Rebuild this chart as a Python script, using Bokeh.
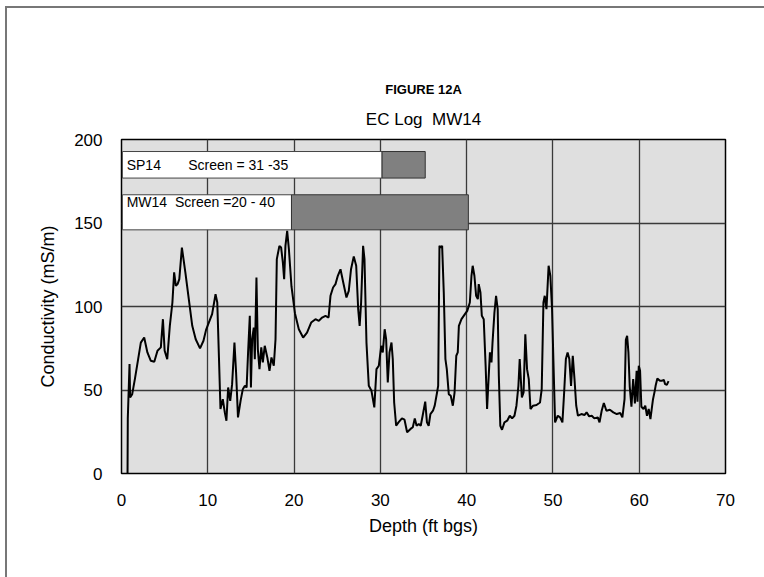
from bokeh.plotting import figure
from bokeh.models import Label, FixedTicker, Grid, Title
from bokeh.embed import file_html
from bokeh.resources import INLINE

# ---- data ----
depth = [0.7, 0.73, 0.93, 1.0, 1.24, 1.55, 1.93, 2.24, 2.63, 3.0, 3.4, 3.8, 4.17, 4.56, 4.8, 5.0,
         5.3, 5.6, 5.9, 6.1, 6.3, 6.5, 6.7, 7.0, 7.4, 7.8, 8.2, 8.6, 9.1, 9.5, 9.8, 10.12, 10.5,
         10.9, 11.1, 11.3, 11.47, 11.74, 11.97, 12.16, 12.36, 12.6, 12.82, 13.09, 13.28, 13.5,
         13.8, 14.06, 14.3, 14.5, 14.67, 14.87, 15.0, 15.14, 15.33, 15.45, 15.64, 15.8, 15.99,
         16.2, 16.38, 16.6, 16.9, 17.15, 17.38, 17.65, 17.85, 18.0, 18.3, 18.5, 18.7, 18.85,
         19.0, 19.2, 19.4, 19.7, 20.1, 20.55, 21.05, 21.5, 21.98, 22.48, 22.87, 23.25, 23.64,
         24.0, 24.22, 24.52, 24.8, 25.07, 25.38, 25.7, 26.07, 26.34, 26.6, 26.92, 27.2, 27.43,
         27.6, 27.77, 28.0, 28.16, 28.39, 28.66, 28.97, 29.3, 29.55, 29.82, 30.1, 30.28, 30.5,
         30.67, 30.86, 31.06, 31.29, 31.44, 31.6, 31.83, 32.1, 32.5, 32.8, 33.1, 33.5, 33.76,
         33.99, 34.2, 34.45, 34.68, 34.9, 35.2, 35.4, 35.6, 35.8, 36.1, 36.3, 36.57, 36.7,
         36.85, 37.04, 37.16, 37.35, 37.54, 37.7, 37.93, 38.16, 38.4, 38.6, 38.8, 38.97, 39.1,
         39.4, 39.8, 40.07, 40.37, 40.56, 40.7, 40.9, 41.1, 41.3, 41.4, 41.6, 41.76, 41.98,
         42.2, 42.37, 42.5, 42.7, 42.88, 43.0, 43.22, 43.41, 43.6, 43.73, 43.9, 44.1, 44.38,
         44.7, 45.0, 45.27, 45.54, 45.77, 46.0, 46.15, 46.3, 46.4, 46.6, 46.8, 47.0, 47.2,
         47.4, 47.7, 48.1, 48.5, 48.7, 48.9, 49.05, 49.25, 49.5, 49.7, 49.9, 50.05, 50.25,
         50.56, 50.83, 51.1, 51.3, 51.5, 51.7, 51.9, 52.1, 52.3, 52.5, 52.7, 52.9, 53.3, 53.65,
         53.9, 54.2, 54.5, 54.8, 55.2, 55.4, 55.65, 55.9, 56.2, 56.6, 57.0, 57.4, 57.8, 58.05,
         58.3, 58.45, 58.6, 58.75, 58.9, 59.1, 59.3, 59.5, 59.7, 59.8, 59.95, 60.1, 60.25,
         60.5, 60.7, 60.9, 61.1, 61.3, 61.5, 61.6, 61.8, 61.9, 62.1, 62.4, 62.6, 62.85, 63.0,
         63.2, 63.4]
conductivity = [0, 33, 65.5, 45.5, 47.5, 56.5, 68.5, 78.4, 81.4, 72.5, 67.5, 66.9, 73.5, 75.5, 92.4,
                73.5, 68.5, 88.4, 102.4, 120.4, 112.4, 113.4, 116.4, 135.3, 120.4, 104.4, 88.4,
                80.4, 74.9, 79.5, 86, 90.4, 95.4, 107.4, 102.4, 68.5, 38.6, 44.5, 36.6, 31.6,
                51.5, 43.5, 53.5, 78.4, 60.5, 33.6, 43.5, 50.5, 52.5, 51.5, 72.5, 94.4, 51.5,
                80.4, 87.4, 68.5, 117.4, 74.5, 62.5, 75.5, 66.5, 76.5, 69.5, 61.5, 69.5, 64.5,
                80.4, 128.4, 136.3, 135.3, 126.4, 116.4, 136.3, 145.3, 134.3, 112, 96, 86.4,
                81.4, 84.4, 90.4, 92.4, 91.4, 93.4, 94.4, 93.4, 106.4, 111.4, 113.4, 118.4,
                122.3, 114.4, 105.4, 109.4, 122.3, 130, 124.4, 98.4, 88.4, 102.4, 136.3, 128.4,
                78.4, 52.5, 49.5, 39.6, 62.5, 64.5, 76.5, 72.5, 86.4, 80.4, 54.5, 72.5, 78.4,
                68.5, 42.5, 28.6, 30.6, 33, 32.2, 24.7, 26.7, 27.7, 33, 28.6, 29.6, 28.6, 34.6,
                43, 30.6, 28.6, 35.6, 37.6, 40.6, 48.5, 52.5, 136.3, 135.3, 136.3, 108.4, 68.5,
                62.5, 47.5, 46.5, 40.6, 48.5, 70.5, 72.5, 88.4, 92.4, 95.4, 97.4, 102.4, 118.4,
                124.4, 118.4, 106.4, 104.4, 113.4, 108.4, 94.4, 92.4, 64.5, 38.6, 52.5, 72.5,
                66.5, 78.4, 96.4, 106.4, 98.4, 58.5, 28.6, 26.2, 30.6, 31.6, 34.6, 33, 34.6,
                40.6, 52.5, 68.5, 54.5, 45.5, 48.5, 83.4, 62.5, 56.5, 38.6, 40.6, 41, 42.5, 50.5,
                102.4, 106.4, 98.4, 124.4, 118.4, 98.4, 68.5, 30.6, 34.6, 33.6, 30.6, 48.5, 68.5,
                72.5, 68.5, 52.5, 70.5, 56.5, 40.6, 34.6, 35.6, 35, 36.6, 34.2, 34.6, 33, 33.6,
                30.6, 37.6, 42.2, 37.6, 38.2, 36.6, 35.6, 36.2, 33.6, 44.5, 80, 82.4, 72.5, 52,
                40, 56.5, 42, 61.5, 43, 64.5, 61.5, 40, 38.6, 40.6, 34.6, 38.6, 32.6, 40.6, 44.5,
                49.5, 52.5, 56.9, 55.5, 55.5, 56.1, 53.5, 53.1, 55.3]

# well screen boxes
NB = "\u00a0"
screen_labels = ["SP14" + NB * 7 + "Screen = 31 -35", "MW14" + NB * 2 + "Screen =20 - 40"]
label_box_left = [0.1, 0.1]
screen_from = [30.2, 19.7]
screen_to = [35.2, 40.2]
box_bottom = [176.9, 145.9]
box_top = [192.8, 166.9]
label_text_y = [185.0, 162.3]

x_ticks = [0, 10, 20, 30, 40, 50, 60, 70]
y_ticks = [0, 50, 100, 150, 200]

title_lines = ["FIGURE 12A", "EC Log" + NB * 2 + "MW14"]

FONT = "Liberation Sans"

p = figure(width=764, height=577, x_range=(0, 70), y_range=(0, 200),
           output_backend="svg", toolbar_location=None,
           min_border_left=121, min_border_right=39, min_border_top=139, min_border_bottom=104,
           background_fill_color="#dfdfdf", border_fill_color="white", border_fill_alpha=0)

p.styles = {
    "background": ("linear-gradient(#777777,#777777) 5px 6px / 2px 100% no-repeat, "
                   "linear-gradient(#777777,#777777) 5px 6px / 100% 2px no-repeat, white"),
}

p.title = Title(text=title_lines[0], align="center", text_font=FONT, text_font_size="13px",
                text_font_style="bold", text_color="black", standoff=0)
p.add_layout(Title(text=title_lines[1], align="center", text_font=FONT,
                   text_font_size="17px", text_font_style="normal", text_color="black",
                   standoff=22), "above")

p.outline_line_color = "black"
p.outline_line_width = 1.5

p.grid.visible = False
xg = Grid(dimension=0, ticker=FixedTicker(ticks=x_ticks), grid_line_color="#3a3a3a", grid_line_width=1.3)
yg = Grid(dimension=1, ticker=FixedTicker(ticks=y_ticks), grid_line_color="#3a3a3a", grid_line_width=1.3)
p.add_layout(xg, "center")
p.add_layout(yg, "center")

p.xaxis.ticker = FixedTicker(ticks=x_ticks)
p.yaxis.ticker = FixedTicker(ticks=y_ticks)
for ax in (p.xaxis, p.yaxis):
    ax.major_tick_line_color = None
    ax.minor_tick_line_color = None
    ax.axis_line_color = None
    ax.major_label_text_font = FONT
    ax.major_label_text_font_size = "17px"
    ax.major_label_text_color = "black"
    ax.axis_label_text_font = FONT
    ax.axis_label_text_font_size = "18px"
    ax.axis_label_text_font_style = "normal"
    ax.axis_label_text_color = "black"

p.xaxis.axis_label = "Depth (ft bgs)"
p.yaxis.axis_label = "Conductivity (mS/m)"
p.xaxis.major_label_standoff = 14
p.yaxis.major_label_standoff = 13
p.xaxis.axis_label_standoff = 7
p.yaxis.axis_label_standoff = 13

# screen boxes
p.quad(left=label_box_left, right=screen_from, bottom=box_bottom, top=box_top,
       fill_color="white", line_color="#444444", line_width=1)
p.quad(left=screen_from, right=screen_to, bottom=box_bottom, top=box_top,
       fill_color="#808080", line_color="#333333", line_width=1)
for txt, yv in zip(screen_labels, label_text_y):
    p.add_layout(Label(x=0.6, y=yv, text=txt, text_font=FONT, text_font_size="14px",
                       text_baseline="middle", text_align="left", text_color="black"))

# EC log
p.line(depth, conductivity, line_color="black", line_width=2)

open("out.html", "w").write(file_html(p, INLINE))
